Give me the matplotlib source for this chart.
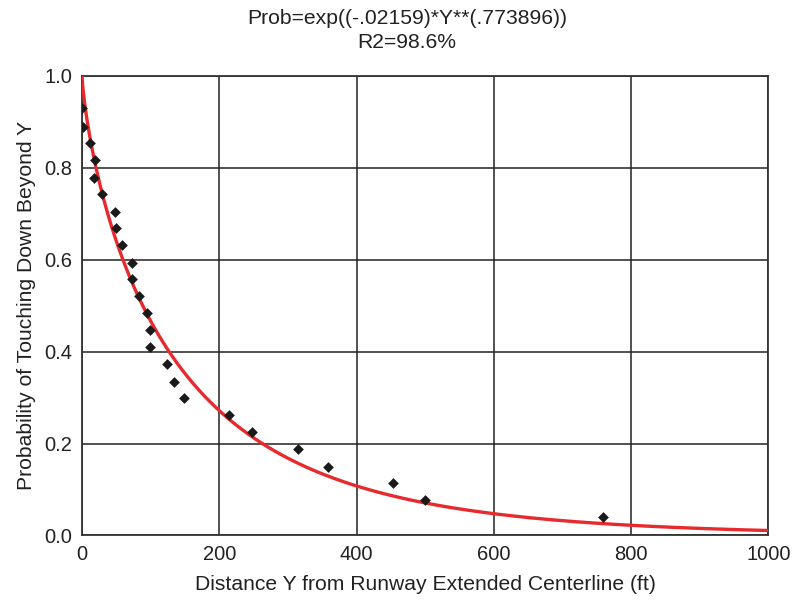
import numpy as np
import matplotlib
matplotlib.use("Agg")
import matplotlib.pyplot as plt

plt.rcParams['font.family'] = ['Liberation Sans', 'DejaVu Sans']

# Observed data points
dist_y = [0, 2, 12, 19, 18, 29, 48, 49, 59, 73, 73, 83, 94, 99, 99,
          124, 134, 149, 214, 248, 315, 358, 453, 500, 759]
prob = [0.929, 0.889, 0.854, 0.817, 0.778, 0.742, 0.704, 0.670, 0.632,
        0.593, 0.558, 0.520, 0.483, 0.446, 0.409, 0.373, 0.335, 0.299,
        0.262, 0.226, 0.188, 0.150, 0.114, 0.078, 0.040]

# Fitted model parameters (from the chart title)
coef_a = -0.02159
coef_b = 0.773896

title_line1 = "Prob=exp((-.02159)*Y**(.773896))"
title_line2 = "R2=98.6%"
x_ticks = [0, 200, 400, 600, 800, 1000]
y_ticks = [0.0, 0.2, 0.4, 0.6, 0.8, 1.0]

fig = plt.figure(figsize=(7.93, 6.02), dpi=100)
ax = fig.add_axes([0.1034, 0.1105, 0.8656, 0.7635])

yy = np.linspace(0, 1000, 1001)
ax.plot(yy, np.exp(coef_a * yy ** coef_b), color='#e62a2d', lw=2.4, zorder=3)
ax.scatter(dist_y, prob, marker='D', s=30, color='#1a1a1a', zorder=4, linewidths=0)

ax.set_xlim(0, 1000)
ax.set_ylim(0, 1.0)
ax.set_xticks(x_ticks)
ax.set_yticks(y_ticks)
ax.set_xticklabels([str(t) for t in x_ticks])
ax.set_yticklabels([f"{t:.1f}" for t in y_ticks])
ax.grid(True, color='#222222', lw=1.1)
ax.set_axisbelow(True)
ax.tick_params(length=0, pad=7, labelsize=14.5, colors='#222222')
for s in ax.spines.values():
    s.set_color('#333333')
    s.set_linewidth(1.3)

ax.set_xlabel("Distance Y from Runway Extended Centerline (ft)", fontsize=15.2,
              color='#222222', labelpad=8)
ax.set_ylabel("Probability of Touching Down Beyond Y", fontsize=15.2,
              color='#222222', labelpad=6)

fig.text(0.513, 0.970, title_line1, ha='center', va='center', fontsize=15.2, color='#222222')
fig.text(0.513, 0.930, title_line2, ha='center', va='center', fontsize=15.2, color='#222222')

fig.savefig("out.png", dpi=100)
